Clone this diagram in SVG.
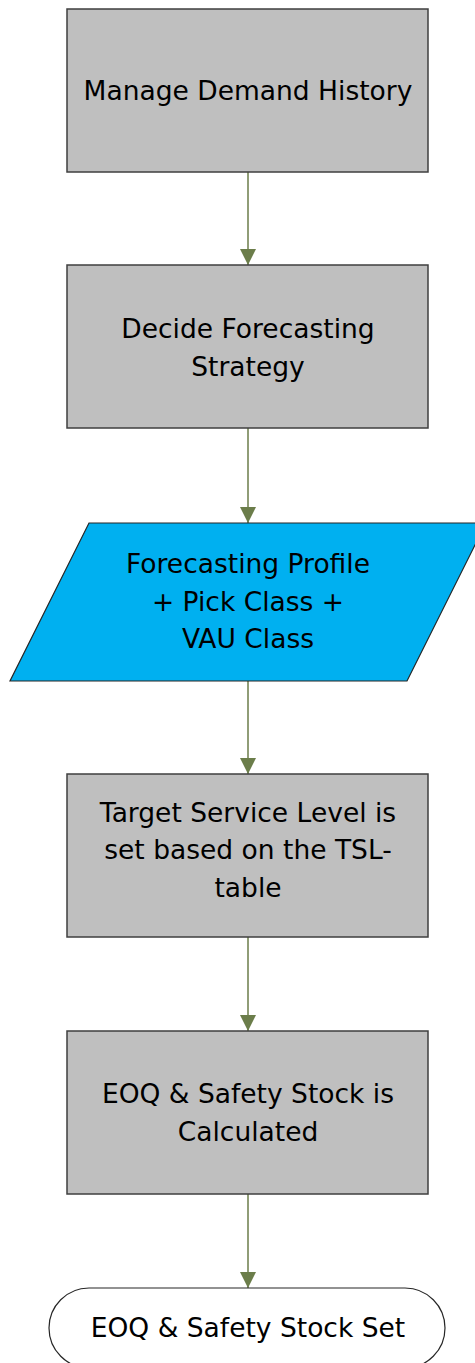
<svg xmlns="http://www.w3.org/2000/svg" width="475" height="1363" viewBox="0 0 475 1363">
  <style>
    .proc { fill: #bfbfbf; stroke: #3f3f3f; stroke-width: 1.5; }
    .data { fill: #00b0f0; stroke: #262626; stroke-width: 1.2; }
    .term { fill: #ffffff; stroke: #262626; stroke-width: 1.2; }
    .lbl { font-family: "DejaVu Sans", Verdana, sans-serif; font-size: 26.5px; fill: #000000; text-anchor: middle; }
    .conn { stroke: #6b7d4a; stroke-width: 1.5; fill: none; }
  </style>
  <defs>
    <marker id="arrow" markerWidth="16" markerHeight="16" refX="16" refY="8" orient="auto" markerUnits="userSpaceOnUse">
      <path d="M0,0 L16,8 L0,16 Z" fill="#6b7d4a"/>
    </marker>
  </defs>

  <rect width="475" height="1363" fill="#ffffff"/>

  <!-- connectors -->
  <g id="connectors">
    <line class="conn" x1="248" y1="172" x2="248" y2="265" marker-end="url(#arrow)"/>
    <line class="conn" x1="248" y1="428" x2="248" y2="523" marker-end="url(#arrow)"/>
    <line class="conn" x1="248" y1="681" x2="248" y2="774" marker-end="url(#arrow)"/>
    <line class="conn" x1="248" y1="937" x2="248" y2="1031" marker-end="url(#arrow)"/>
    <line class="conn" x1="248" y1="1194" x2="248" y2="1288" marker-end="url(#arrow)"/>
  </g>

  <g id="manage-demand-history">
    <rect class="proc" x="67" y="9" width="361" height="163"/>
    <text class="lbl" x="248" y="100">Manage Demand History</text>
  </g>

  <g id="decide-forecasting-strategy">
    <rect class="proc" x="67" y="265" width="361" height="163"/>
    <text class="lbl" x="248" y="338">Decide Forecasting</text>
    <text class="lbl" x="248" y="376">Strategy</text>
  </g>

  <g id="forecasting-profile">
    <polygon class="data" points="89,523 486,523 407,681 10,681"/>
    <text class="lbl" x="248" y="573">Forecasting Profile</text>
    <text class="lbl" x="248" y="611">+ Pick Class +</text>
    <text class="lbl" x="248" y="648">VAU Class</text>
  </g>

  <g id="target-service-level">
    <rect class="proc" x="67" y="774" width="361" height="163"/>
    <text class="lbl" x="248" y="822">Target Service Level is</text>
    <text class="lbl" x="248" y="859">set based on the TSL-</text>
    <text class="lbl" x="248" y="897">table</text>
  </g>

  <g id="eoq-calculated">
    <rect class="proc" x="67" y="1031" width="361" height="163"/>
    <text class="lbl" x="248" y="1103">EOQ &amp; Safety Stock is</text>
    <text class="lbl" x="248" y="1141">Calculated</text>
  </g>

  <g id="eoq-set">
    <rect class="term" x="49" y="1288" width="396" height="80" rx="40" ry="40"/>
    <text class="lbl" x="248" y="1337">EOQ &amp; Safety Stock Set</text>
  </g>
</svg>
